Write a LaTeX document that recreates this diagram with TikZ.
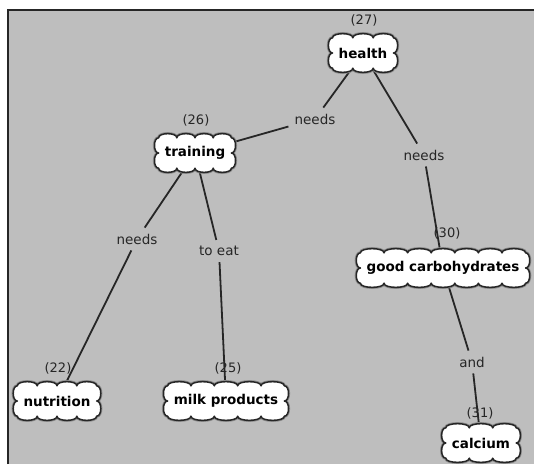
\documentclass[tikz,border=0pt]{standalone}
\usepackage{fontspec}
\setmainfont{DejaVu Sans}
\usetikzlibrary{calc,backgrounds}
\definecolor{panel}{RGB}{190,190,190}
\definecolor{ink}{RGB}{38,38,38}
\pgfdeclarelayer{clouds}
\pgfsetlayers{background,clouds,main}
\tikzset{
  concept/.style={rectangle, minimum height=30pt, inner xsep=6pt, inner ysep=3pt,
    font=\fontsize{13.5}{16}\selectfont\bfseries},
  cloudline/.style={draw=ink, line width=1.5pt, fill=white, line join=round,
    preaction={draw=black!45, line width=3.2pt}},
  linklabel/.style={inner sep=6pt, text=ink, font=\fontsize{13.5}{15}\selectfont},
  idlabel/.style={inner sep=1pt, text=ink, font=\fontsize{13}{14}\selectfont},
  link/.style={draw=ink, line width=1.8pt},
}
% Scalloped outline around a node: #1 node, #2 puffs along top/bottom, #3 puffs along sides
\newcommand\puffs[3]{%
  \begin{pgfonlayer}{clouds}
  \draw[cloudline] let \p1=(#1.south west), \p2=(#1.north east),
      \n1={(\x2-\x1)/#2}, \n2={(\y2-\y1)/#3} in
    (\x1,\y2)
    \foreach \i in {1,...,#2}{ .. controls +(0pt,5.5pt) and +(0pt,5.5pt) .. ({\x1+\i*\n1*1pt},\y2) }
    \foreach \i in {1,...,#3}{ .. controls +(5.5pt,0pt) and +(5.5pt,0pt) .. (\x2,{\y2-\i*\n2*1pt}) }
    \foreach \i in {1,...,#2}{ .. controls +(0pt,-5.5pt) and +(0pt,-5.5pt) .. ({\x2-\i*\n1*1pt},\y1) }
    \foreach \i in {1,...,#3}{ .. controls +(-5.5pt,0pt) and +(-5.5pt,0pt) .. (\x1,{\y1+\i*\n2*1pt}) }
    -- cycle;
  \end{pgfonlayer}}
\begin{document}
\begin{tikzpicture}[x=1pt, y=-1pt]
  \useasboundingbox (0,0) rectangle (534,464);

  % concepts
  \node[concept] (health)    at (363,53)  {health};
  \node[concept] (training)  at (195,153) {training};
  \node[concept] (carbs)     at (443,268) {good carbohydrates};
  \node[concept] (nutrition) at (57,401)  {nutrition};
  \node[concept] (milk)      at (226,401) {milk products};
  \node[concept] (calcium)   at (481,443) {calcium};

  \puffs{health}{3}{2}
  \puffs{training}{4}{2}
  \puffs{carbs}{7}{2}
  \puffs{nutrition}{4}{2}
  \puffs{milk}{5}{2}
  \puffs{calcium}{3}{2}

  % concept numbers
  \node[idlabel] (n27) at (364,20)  {(27)};
  \node[idlabel] (n26) at (196,120) {(26)};
  \node[idlabel] (n30) at (447,233) {(30)};
  \node[idlabel] (n22) at (58,368)  {(22)};
  \node[idlabel] (n25) at (228,368) {(25)};
  \node[idlabel] (n31) at (480,413) {(31)};

  % linking phrases
  \node[linklabel] (l1) at (315,119) {needs};
  \node[linklabel] (l2) at (424,155) {needs};
  \node[linklabel] (l3) at (137,239) {needs};
  \node[linklabel] (l4) at (219,251) {to eat};
  \node[linklabel] (l5) at (472,362) {and};

  \begin{pgfonlayer}{background}
    % panel with frame on top and left
    \fill[panel] (8,10) rectangle (534,464);
    \draw[ink, line width=2pt] (8,464) -- (8,10) -- (534,10);
    % connectors
    \draw[link] (health.center) -- (l1);
    \draw[link] (l1) -- (training.center);
    \draw[link] (health.center) -- (l2);
    \draw[link] (l2) -- (carbs.center);
    \draw[link] (training.center) -- (l3);
    \draw[link] (l3) -- (nutrition.center);
    \draw[link] (training.center) -- (l4);
    \draw[link] (l4) -- (milk.center);
    \draw[link] (carbs.center) -- (l5);
    \draw[link] (l5) -- (calcium.center);
  \end{pgfonlayer}
\end{tikzpicture}
\end{document}
